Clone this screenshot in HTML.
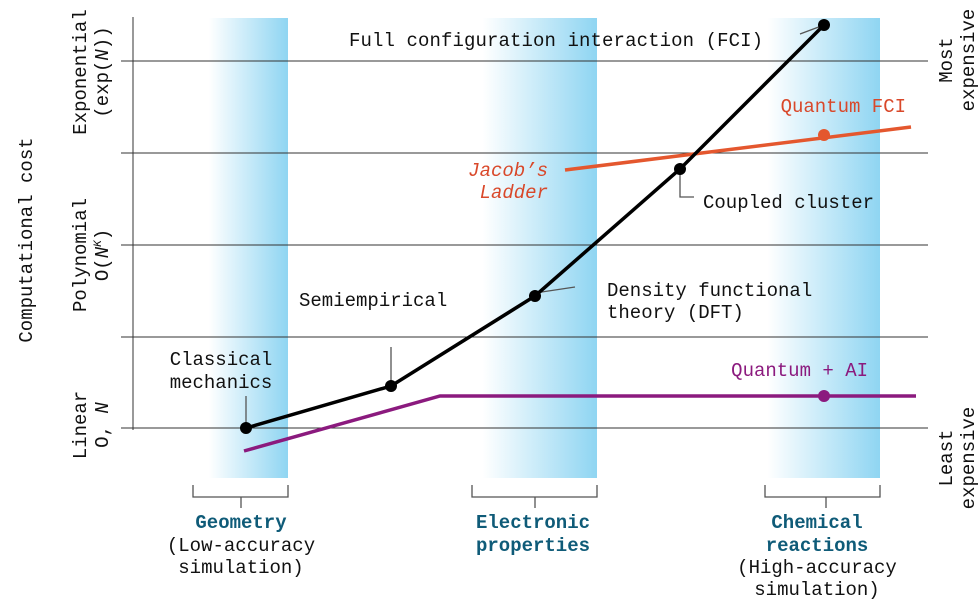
<!DOCTYPE html>
<html><head><meta charset="utf-8"><style>
body{margin:0;background:#fff}
svg text{font-family:"Liberation Mono",monospace;font-size:19px;fill:#111}
</style></head><body>
<svg width="980" height="600" viewBox="0 0 980 600" xmlns="http://www.w3.org/2000/svg">
<defs>
<linearGradient id="g" x1="0" x2="1" y1="0" y2="0">
<stop offset="0" stop-color="#fff"/><stop offset="0.1" stop-color="#fff"/><stop offset="1" stop-color="#8fd5f2"/>
</linearGradient>
</defs>
<rect x="200" y="18" width="88" height="460" fill="url(#g)"/>
<rect x="470" y="18" width="127" height="460" fill="url(#g)"/>
<rect x="755" y="18" width="125" height="460" fill="url(#g)"/>
<g stroke="#333" stroke-width="1">
<line x1="133" y1="17" x2="133" y2="430"/>
<line x1="121" y1="61" x2="928" y2="61"/>
<line x1="121" y1="153" x2="928" y2="153"/>
<line x1="121" y1="245" x2="928" y2="245"/>
<line x1="121" y1="337" x2="928" y2="337"/>
<line x1="121" y1="428" x2="928" y2="428"/>
</g>
<g stroke="#555" stroke-width="1.3" fill="none">
<path d="M193 485V497H288V485M241 497V508"/>
<path d="M472 485V497H597V485M535 497V508"/>
<path d="M765 485V497H880V485M826 497V508"/>
<path d="M246 424V396M391 383V347M535 293L575 287M680 172V197H694M824 25L800 34"/>
</g>
<polyline points="565,170 911,127" stroke="#e4572e" stroke-width="3.5" fill="none"/>
<circle cx="824" cy="135" r="6" fill="#e4572e"/>
<polyline points="244,451 440,396 916,396" stroke="#8b1a7e" stroke-width="3.5" fill="none"/>
<circle cx="824" cy="396" r="6" fill="#8b1a7e"/>
<polyline points="246,428 391,386 535,296 680,169 824,25" stroke="#000" stroke-width="3.5" fill="none"/>
<g fill="#000"><circle cx="246" cy="428" r="6"/><circle cx="391" cy="386" r="6"/><circle cx="535" cy="296" r="6"/><circle cx="680" cy="169" r="6"/><circle cx="824" cy="25" r="6"/></g>
<text x="349" y="46" textLength="414">Full configuration interaction (FCI)</text>
<text x="906" y="112" text-anchor="end" style="fill:#d9482a">Quantum FCI</text>
<text x="548" y="176" text-anchor="end" style="fill:#d9482a;font-style:italic">Jacob’s</text>
<text x="548" y="198" text-anchor="end" style="fill:#d9482a;font-style:italic">Ladder</text>
<text x="703" y="208">Coupled cluster</text>
<text x="607" y="296">Density functional</text>
<text x="607" y="318">theory (DFT)</text>
<text x="299" y="306">Semiempirical</text>
<text x="221" y="365" text-anchor="middle">Classical</text>
<text x="221" y="388" text-anchor="middle">mechanics</text>
<text x="868" y="376" text-anchor="end" style="fill:#8b1a7e">Quantum + AI</text>
<g text-anchor="middle">
<text x="241" y="528" style="fill:#0f5b78;font-weight:bold">Geometry</text>
<text x="241" y="551">(Low-accuracy</text>
<text x="241" y="573">simulation)</text>
<text x="533" y="528" style="fill:#0f5b78;font-weight:bold">Electronic</text>
<text x="533" y="551" style="fill:#0f5b78;font-weight:bold">properties</text>
<text x="817" y="528" style="fill:#0f5b78;font-weight:bold">Chemical</text>
<text x="817" y="551" style="fill:#0f5b78;font-weight:bold">reactions</text>
<text x="817" y="573">(High-accuracy</text>
<text x="817" y="595">simulation)</text>
</g>
<g text-anchor="middle">
<text transform="translate(32,240) rotate(-90)">Computational cost</text>
<text transform="translate(86,72) rotate(-90)">Exponential</text>
<text transform="translate(108,72) rotate(-90)">(exp(<tspan font-style="italic">N</tspan>))</text>
<text transform="translate(86,255) rotate(-90)">Polynomial</text>
<text transform="translate(108,255) rotate(-90)">O(<tspan font-style="italic">N</tspan><tspan font-size="11" dy="-7" font-style="italic">K</tspan><tspan dy="7">)</tspan></text>
<text transform="translate(86,425) rotate(-90)">Linear</text>
<text transform="translate(108,425) rotate(-90)">O, <tspan font-style="italic">N</tspan></text>
<text transform="translate(952,60) rotate(-90)">Most</text>
<text transform="translate(974,60) rotate(-90)">expensive</text>
<text transform="translate(952,458) rotate(-90)">Least</text>
<text transform="translate(974,458) rotate(-90)">expensive</text>
</g>
</svg>
</body></html>
